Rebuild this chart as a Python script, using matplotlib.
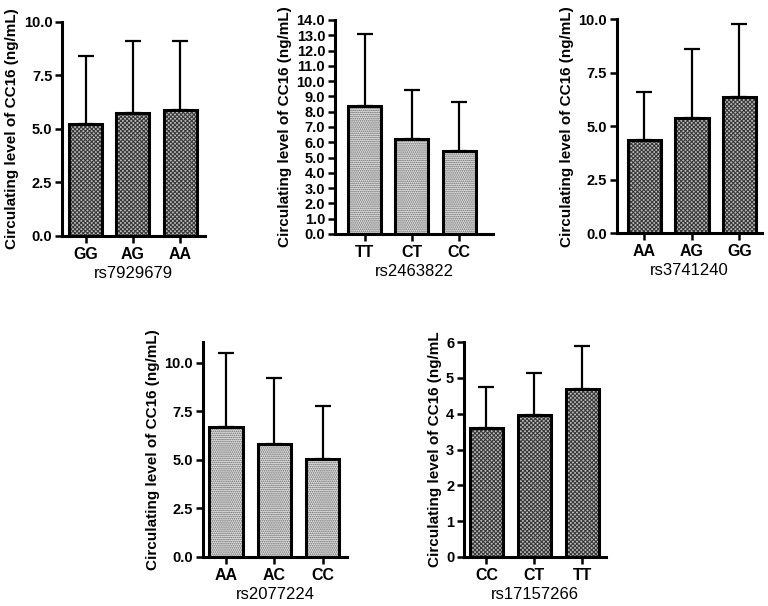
import matplotlib
matplotlib.use("Agg")
import matplotlib.pyplot as plt

plt.rcParams['font.family'] = ['Liberation Sans', 'DejaVu Sans']
plt.rcParams['hatch.linewidth'] = 0.8

# data (mean, upper SD)
snp1 = "rs7929679"
geno1 = ["GG", "AG", "AA"]
mean1 = [5.2, 5.75, 5.9]
top1 = [8.4, 9.1, 9.1]

snp2 = "rs2463822"
geno2 = ["TT", "CT", "CC"]
mean2 = [8.4, 6.2, 5.45]
top2 = [13.1, 9.45, 8.65]

snp3 = "rs3741240"
geno3 = ["AA", "AG", "GG"]
mean3 = [4.35, 5.4, 6.35]
top3 = [6.6, 8.6, 9.8]

snp4 = "rs2077224"
geno4 = ["AA", "AC", "CC"]
mean4 = [6.7, 5.8, 5.05]
top4 = [10.5, 9.25, 7.8]

snp5 = "rs17157266"
geno5 = ["CC", "CT", "TT"]
mean5 = [3.6, 3.95, 4.7]
top5 = [4.75, 5.13, 5.9]

ylab = "Circulating level of CC16 (ng/mL)"

fig = plt.figure(figsize=(7.68, 6.06), dpi=100)

panels = [
    # rect, snp, genotypes, means, tops, ylim, yticks, xlim, style, ylabel
    ([0.0807, 0.611, 0.186, 0.353], snp1, geno1, mean1, top1, 10.0, [0, 2.5, 5, 7.5, 10], (-0.5, 2.52), "dark", ylab),
    ([0.436, 0.614, 0.206, 0.353], snp2, geno2, mean2, top2, 14.0, list(range(0, 15)), (-0.63, 2.72), "light", ylab),
    ([0.803, 0.6155, 0.189, 0.3525], snp3, geno3, mean3, top3, 10.0, [0, 2.5, 5, 7.5, 10], (-0.58, 2.47), "dark", ylab),
    ([0.264, 0.0809, 0.188, 0.3547], snp4, geno4, mean4, top4, 11.08, [0, 2.5, 5, 7.5, 10], (-0.49, 2.51), "light", ylab),
    ([0.604, 0.0809, 0.185, 0.3547], snp5, geno5, mean5, top5, 6.0, list(range(0, 7)), (-0.47, 2.49), "dark", "Circulating level of CC16 (ng/mL"),
]

for rect, snp, geno, mean, top, ymax, yt, xl, style, yl in panels:
    ax = fig.add_axes(rect)
    x = range(len(geno))
    err = [t - m for t, m in zip(top, mean)]
    if style == "dark":
        fc, hc, hatch = "#bdbdbd", "#3a3a3a", "x" * 8
    else:
        fc, hc, hatch = "#e2e2e2", "#666666", "." * 8
    # pattern fill, then black outline on top
    ax.bar(x, mean, width=0.7, color=fc, edgecolor=hc, linewidth=0,
           hatch=hatch, zorder=2)
    ax.bar(x, mean, width=0.7, fill=False, edgecolor="black", linewidth=2.2,
           zorder=3)
    ax.errorbar(x, mean, yerr=[[0] * len(err), err], fmt="none", ecolor="black",
                elinewidth=1.6, capsize=5.8, capthick=1.6, zorder=1)
    ax.set_xlim(*xl)
    ax.set_ylim(0, ymax)
    ax.set_yticks(yt)
    ax.set_yticklabels([("%d" % v) if ymax == 6.0 else ("%.1f" % v) for v in yt])
    ax.set_xticks(list(x))
    ax.set_xticklabels(geno)
    for s in ["top", "right"]:
        ax.spines[s].set_visible(False)
    for s in ["left", "bottom"]:
        ax.spines[s].set_linewidth(2.2)
    ax.tick_params(width=1.8, length=5, labelsize=10.5, pad=2)
    ax.tick_params(axis="x", pad=3, labelsize=11.5)
    for lab in ax.get_xticklabels() + ax.get_yticklabels():
        lab.set_fontweight("bold")
    ax.set_xlabel(snp, fontsize=12, labelpad=3)
    ax.set_ylabel(yl, fontsize=11, fontweight="bold", labelpad=3)

fig.savefig("out.png", dpi=100)
